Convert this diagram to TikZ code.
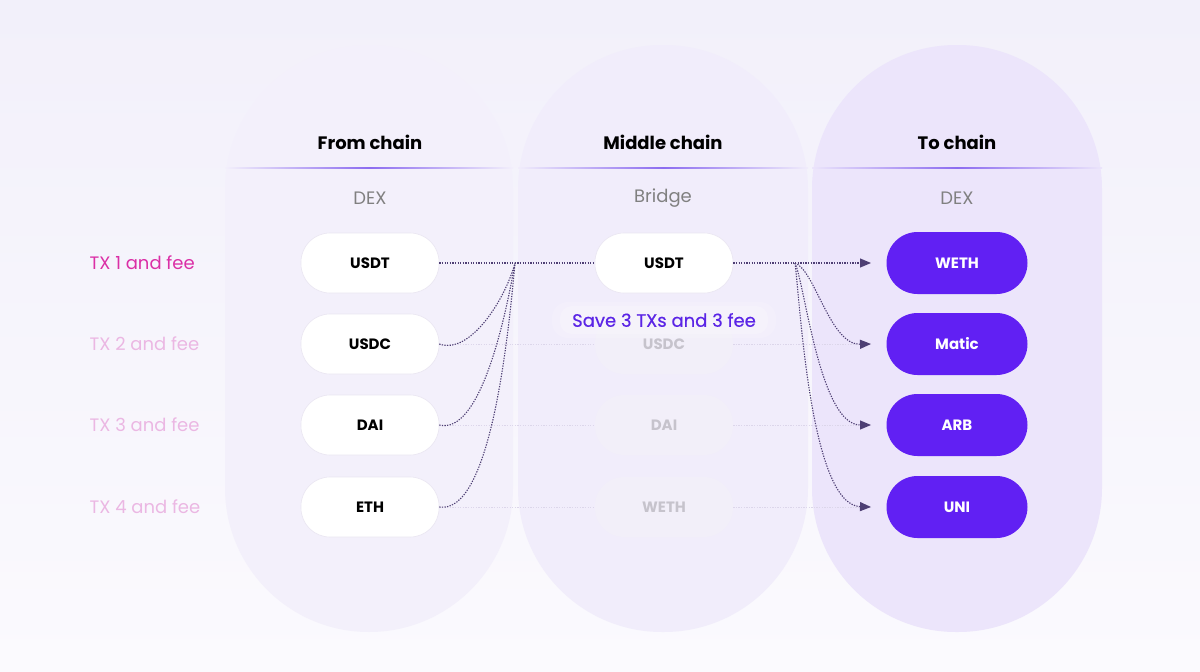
\documentclass[tikz,border=0pt]{standalone}
\usepackage{fontspec}
\setmainfont{Poppins}
\newfontfamily\popmed[FakeBold=0.45]{Poppins}
\usetikzlibrary{arrows.meta}
\definecolor{bgtop}{HTML}{F2F0FA}
\definecolor{bgbot}{HTML}{FBFAFE}
\definecolor{capA}{HTML}{F3F0FB}
\definecolor{capB}{HTML}{F1EDFB}
\definecolor{capC}{HTML}{ECE5FB}
\definecolor{hdrline}{HTML}{8C6CF0}
\definecolor{dexgray}{HTML}{808080}
\definecolor{purp}{HTML}{6120F3}
\definecolor{dotc}{HTML}{4E3F74}
\definecolor{faint}{HTML}{DCD6EA}
\definecolor{ghostfill}{HTML}{F2EFF9}
\definecolor{ghosttxt}{HTML}{C6C3CC}
\definecolor{txone}{HTML}{DB2FA6}
\definecolor{txpale}{HTML}{EBB7E3}
\definecolor{savec}{HTML}{5B25E6}
\tikzset{
  capsule/.style={rounded corners=144pt},
  hdr/.style={font=\fontsize{18}{20}\selectfont\bfseries, text=black},
  sub/.style={font=\fontsize{18}{20}\selectfont, text=dexgray},
  whitebox/.style={draw=faint!60, line width=0.6pt, fill=white, rounded corners=29pt, minimum width=138pt, minimum height=60pt, font=\fontsize{15}{18}\selectfont\bfseries, text=black},
  ghostbox/.style={fill=ghostfill, rounded corners=29pt, minimum width=138pt, minimum height=60pt, font=\fontsize{15}{18}\selectfont\bfseries, text=ghosttxt},
  purpbox/.style={fill=purp, rounded corners=31pt, minimum width=141pt, minimum height=62pt, font=\fontsize{15}{18}\selectfont\bfseries, text=white},
  txlab/.style={font=\fontsize{18}{20}\selectfont, anchor=west},
  link/.style={draw=dotc, line width=1.1pt, dash pattern=on 1.3pt off 1.3pt},
  flink/.style={draw=faint, line width=1pt, dash pattern=on 1.3pt off 1.3pt},
  tip/.style={-{Triangle[length=11pt,width=9pt,color=dotc]}},
}
\begin{document}
\begin{tikzpicture}[x=1pt,y=-1pt]
\useasboundingbox (0,0) rectangle (1200,672);
\shade[top color=bgtop, bottom color=bgbot] (0,0) rectangle (1200,672);
% capsules
\fill[capA, capsule] (225,45) rectangle (513,632);
\fill[capB, capsule] (518,45) rectangle (808,632);
\fill[capC, capsule] (812,45) rectangle (1102,632);
% header lines
\shade[left color=capA, right color=capA, middle color=hdrline] (225,167.3) rectangle (513,168.8);
\shade[left color=capB, right color=capB, middle color=hdrline] (518,167.3) rectangle (808,168.8);
\shade[left color=capC, right color=capC, middle color=hdrline] (812,167.3) rectangle (1102,168.8);
% headers
\node[hdr] (h1) at (370,142) {From chain};
\node[hdr] (h2) at (663,142) {Middle chain};
\node[hdr] (h3) at (957,142) {To chain};
\node[sub] (s1) at (370,198) {DEX};
\node[sub] (s2) at (663,198) {Bridge};
\node[sub] (s3) at (957,198) {DEX};
% left labels
\node[txlab, text=txone] (t1) at (86,263) {TX 1 and fee};
\node[txlab, text=txpale] (t2) at (86,344) {TX 2 and fee};
\node[txlab, text=txpale] (t3) at (86,425) {TX 3 and fee};
\node[txlab, text=txpale] (t4) at (86,507) {TX 4 and fee};
% from boxes
\node[whitebox] (f1) at (370,263) {USDT};
\node[whitebox] (f2) at (370,344) {USDC};
\node[whitebox] (f3) at (370,425) {DAI};
\node[whitebox] (f4) at (370,507) {ETH};
% middle boxes
\node[whitebox] (m1) at (664,263) {USDT};
\node[ghostbox] (m2) at (664,344) {USDC};
\node[ghostbox] (m3) at (664,425) {DAI};
\node[ghostbox] (m4) at (664,507) {WETH};
% to boxes
\node[purpbox] (d1) at (957,263) {WETH};
\node[purpbox] (d2) at (957,344) {Matic};
\node[purpbox] (d3) at (957,425) {ARB};
\node[purpbox] (d4) at (957,507) {UNI};
% junctions
\coordinate (jl) at (515,263);
\coordinate (jr) at (795,263);
\coordinate (a1) at (871,263);
\coordinate (a2) at (871,344);
\coordinate (a3) at (871,425);
\coordinate (a4) at (871,507);
% faint lines
\foreach \i in {2,3,4}{
  \draw[flink] (f\i.east) -- (m\i.west);
  \draw[flink] (m\i.east) -- (a\i);
}
% save label with soft glow
\fill[white, opacity=0.15, rounded corners=16pt] (552,302) rectangle (776,338);
\fill[white, opacity=0.2, rounded corners=12pt] (560,306) rectangle (768,334);
\node[font=\popmed\fontsize{18}{20}\selectfont, text=savec] (save) at (664,320) {Save 3 TXs and 3 fee};
% main links
\draw[link] (f1.east) -- (jl) -- (m1.west);
\draw[link] (f2.east) .. controls (470,355) and (505,300) .. (jl);
\draw[link] (f3.east) .. controls (480,435) and (505,320) .. (jl);
\draw[link] (f4.east) .. controls (490,515) and (508,340) .. (jl);
\draw[link] (m1.east) -- (jr);
\draw[link, tip] (jr) -- (a1);
\draw[link, tip] (jr) .. controls (815,270) and (830,345) .. (a2);
\draw[link, tip] (jr) .. controls (805,285) and (820,425) .. (a3);
\draw[link, tip] (jr) .. controls (800,300) and (810,505) .. (a4);
\end{tikzpicture}
\end{document}
